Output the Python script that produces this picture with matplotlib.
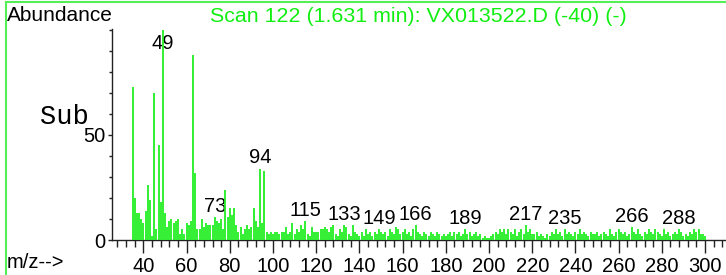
import matplotlib.pyplot as plt
from matplotlib.lines import Line2D

# m/z 35..300, relative abundance
mz = list(range(35, 301))
abund = [
    73, 20, 13, 13, 10, 8,                       # 35-40
    14, 26, 19, 2, 70, 5, 45, 18, 100, 13,        # 41-50
    6, 9, 10, 8, 9, 10, 3, 5, 3, 8,               # 51-60
    7, 9, 88, 32, 5, 5, 10, 6, 8, 7,              # 61-70
    7, 7, 11, 9, 8, 10, 5, 24, 11, 15,            # 71-80
    12, 15, 7, 4, 6, 3, 5, 7, 5, 6,               # 81-90
    15, 9, 6, 34, 8, 33, 4, 3, 4, 3,              # 91-100
    4, 4, 3, 4, 4, 6, 3, 4, 8, 3,                 # 101-110
    5, 4, 7, 5, 9, 3, 2, 6, 4, 4,                 # 111-120
    4, 5, 5, 6, 5, 4, 6, 7, 3, 2,                 # 121-130
    5, 4, 7, 6, 3, 2, 7, 4, 3, 2,                 # 131-140
    4, 2, 5, 3, 4, 2, 4, 3, 5, 4,                 # 141-150
    3, 4, 2, 5, 4, 3, 6, 5, 3, 4,                 # 151-160
    5, 3, 4, 2, 5, 7, 4, 3, 2, 4,                 # 161-170
    3, 2, 4, 3, 2, 4, 3, 2, 3, 2,                 # 171-180
    3, 4, 2, 4, 3, 4, 2, 3, 5, 3,                 # 181-190
    4, 2, 3, 4, 2, 3, 1, 2, 1, 1,                 # 191-200
    2, 3, 4, 3, 5, 4, 5, 3, 5, 4,                 # 201-210
    3, 5, 2, 4, 5, 3, 7, 4, 5, 3,                 # 211-220
    3, 4, 2, 3, 2, 1, 3, 2, 4, 3,                 # 221-230
    5, 3, 4, 2, 5, 3, 4, 3, 2, 4,                 # 231-240
    3, 5, 3, 4, 3, 2, 4, 3, 3, 4,                 # 241-250
    2, 3, 4, 3, 2, 5, 3, 2, 4, 5,                 # 251-260
    4, 3, 4, 2, 3, 6, 4, 3, 5, 3,                 # 261-270
    2, 4, 3, 5, 4, 3, 5, 4, 3, 2,                 # 271-280
    5, 3, 4, 2, 3, 4, 3, 5, 4, 2,                 # 281-290
    3, 2, 4, 3, 5, 4, 5, 3, 3, 2,                 # 291-300
]
peak_labels = [49, 73, 94, 115, 133, 149, 166, 189, 217, 235, 266, 288]
xticks = list(range(40, 301, 20))

GREEN = '#22ee22'
FS = 14.5
plt.rcParams['font.family'] = ['Liberation Sans', 'DejaVu Sans']

fig = plt.figure(figsize=(7.26, 2.75), dpi=100)
ax = fig.add_axes([112.3 / 726, 35 / 275, 613.7 / 726, 210.7 / 275])
ax.set_xlim(25.6, 309.7)
ax.set_ylim(0, 100.3)

ax.vlines(mz, 0, abund, color=GREEN, lw=1.3, zorder=3)

for m in peak_labels:
    v = abund[mz.index(m)]
    ax.text(m, min(v + 2.5, 91), str(m), ha='center', va='baseline',
            fontsize=FS, color='black', zorder=1)

for s in ['top', 'right']:
    ax.spines[s].set_visible(False)
for s in ['left', 'bottom']:
    ax.spines[s].set_color('#222222')
    ax.spines[s].set_linewidth(1.0)

ax.set_xticks(xticks)
ax.set_xticks(range(28, 310, 4), minor=True)
ax.set_yticks([0, 50])
ax.set_yticks(range(10, 101, 10), minor=True)
ax.tick_params(axis='x', which='major', length=9, width=1, pad=3, labelsize=FS, color='#222222')
ax.tick_params(axis='x', which='minor', length=5, width=1, color='#222222')
ax.tick_params(axis='y', which='major', length=3, width=1, pad=2, labelsize=FS, color='#222222')
ax.tick_params(axis='y', which='minor', length=2.5, width=1, color='#222222')

# header texts
fig.text(7 / 726, 1 - 21 / 275, 'Abundance', fontsize=15, va='baseline', ha='left')
fig.text(418.5 / 726, 1 - 22 / 275, 'Scan 122 (1.631 min): VX013522.D (-40) (-)',
         fontsize=15.4, color='#11ee11', va='baseline', ha='center')
fig.text(40 / 726, 1 - 123.5 / 275, 'Sub', fontsize=19.5, family='Liberation Mono',
         va='baseline', ha='left')
fig.text(7 / 726, 1 - 268 / 275, 'm/z-->', fontsize=FS, va='baseline', ha='left')

# frame around the window (left and top edges visible)
fig.add_artist(Line2D([6 / 726, 6 / 726], [0, 1 - 2 / 275], color='#55ee55', lw=1.5))
fig.add_artist(Line2D([6 / 726, 1], [1 - 2 / 275, 1 - 2 / 275], color='#55ee55', lw=1.5))

fig.savefig('out.png', dpi=100)
